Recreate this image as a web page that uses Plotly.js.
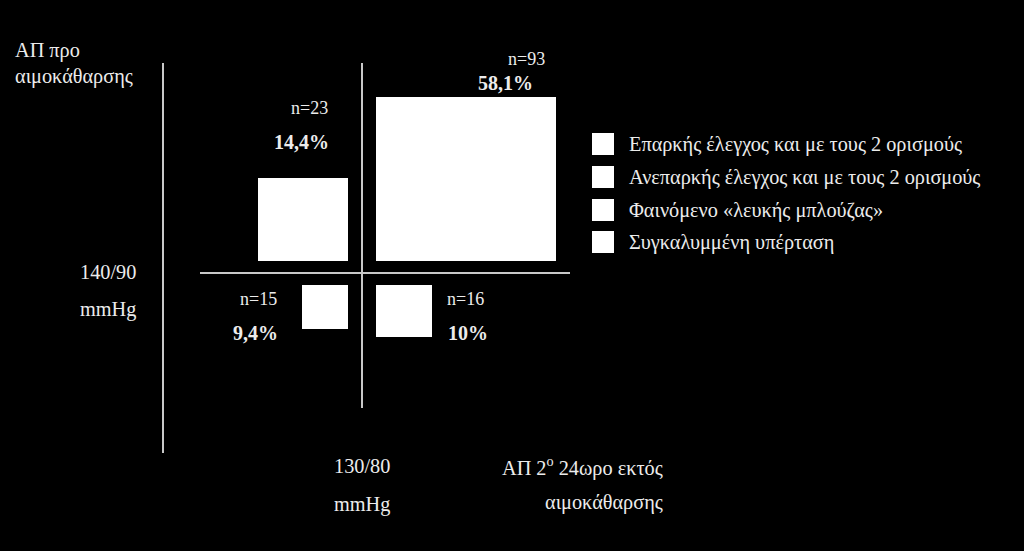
<!DOCTYPE html>
<html>
<head>
<meta charset="utf-8">
<script src="https://cdn.plot.ly/plotly-3.0.1.min.js"></script>
<style>
html,body{margin:0;padding:0;background:#000;}
#chart{width:1024px;height:551px;}
</style>
</head>
<body>
<div id="chart"></div>
<script>
// ---- data ----
var categories = [
  "Επαρκής έλεγχος και με τους 2 ορισμούς",
  "Ανεπαρκής έλεγχος και με τους 2 ορισμούς",
  "Φαινόμενο «λευκής μπλούζας»",
  "Συγκαλυμμένη υπέρταση"
];
var nValues = [15, 93, 23, 16];
var pctValues = [9.4, 58.1, 14.4, 10];
var pctLabels = ["9,4%", "58,1%", "14,4%", "10%"];
// quadrant side relative to the thresholds (-1 below/left, +1 above/right)
var quadX = [-1, 1, -1, 1];
var quadY = [-1, 1, 1, -1];
// square extents as drawn, in axis units
var squareWidth = [46, 180, 90, 56];
var squareHeight = [44, 164, 83, 52];

var xThresholdLabel = ["130/80", "mmHg"];
var yThresholdLabel = ["140/90", "mmHg"];
var yTitle = ["ΑΠ προ", "αιμοκάθαρσης"];
var xTitle = ["ΑΠ 2<sup>ο</sup> 24ωρο εκτός", "αιμοκάθαρσης"];

(function () {
  // ---- layout helpers ----
  var W = 1024, H = 551;
  var FONT = "'Liberation Serif', 'Times New Roman', 'DejaVu Serif', serif";
  var TXT = "#ececec";
  var BIG = 20.3;
  var gapX = 14, gapY = 12;

  var traces = [];
  var annotations = [];
  var shapes = [];

  for (var i = 0; i < categories.length; i++) {
    var w = squareWidth[i], h = squareHeight[i];
    var cx = quadX[i] * (gapX + w / 2);
    var yBase = quadY[i] > 0 ? gapY : -gapY - h;
    traces.push({
      type: "bar",
      name: categories[i],
      x: [cx], y: [h], base: [yBase], width: [w],
      marker: {color: "#ffffff", line: {width: 0}},
      showlegend: false,
      hovertemplate: categories[i] + "<br>n=" + nValues[i] + "<br>" + pctLabels[i] + "<extra></extra>"
    });
    var sqLeft = cx - w / 2, sqRight = cx + w / 2, sqTop = yBase + h;
    var nPos, pPos, xa;
    if (quadY[i] > 0 && quadX[i] < 0) {        // upper-left
      xa = "right"; nPos = [sqRight - 18, sqTop + 70]; pPos = [sqRight - 17, sqTop + 36];
    } else if (quadY[i] > 0) {                 // upper-right
      xa = "right"; nPos = [sqRight - 9, sqTop + 38]; pPos = [sqRight - 21, sqTop + 14];
    } else if (quadX[i] < 0) {                 // lower-left
      xa = "right"; nPos = [sqLeft - 23, sqTop - 14]; pPos = [sqLeft - 22, sqTop - 48];
    } else {                                   // lower-right
      xa = "left"; nPos = [sqRight + 13, sqTop - 14]; pPos = [sqRight + 14, sqTop - 48];
    }
    annotations.push({x: nPos[0], y: nPos[1], xref: "x", yref: "y", text: "n=" + nValues[i],
      showarrow: false, xanchor: xa, yanchor: "middle",
      font: {family: FONT, size: 18, color: TXT}});
    annotations.push({x: pPos[0], y: pPos[1], xref: "x", yref: "y", text: "<b>" + pctLabels[i] + "</b>",
      showarrow: false, xanchor: xa, yanchor: "middle",
      font: {family: FONT, size: 20, color: TXT}});
  }

  // threshold lines and outer axis line
  var lineStyle = {color: "#c8c8c8", width: 2};
  shapes.push({type: "line", xref: "x", yref: "y", x0: 0, x1: 0, y0: -135, y1: 210, line: lineStyle});
  shapes.push({type: "line", xref: "x", yref: "y", x0: -162, x1: 208, y0: 0, y1: 0, line: lineStyle});
  shapes.push({type: "line", xref: "x", yref: "y", x0: -199, x1: -199, y0: -180, y1: 210, line: lineStyle});

  function px(x) { return x / W; }
  function py(y) { return 1 - y / H; }
  function pText(text, x, y, xanchor, size) {
    annotations.push({x: px(x), y: py(y), xref: "paper", yref: "paper", text: text,
      showarrow: false, xanchor: xanchor, yanchor: "middle",
      font: {family: FONT, size: size || BIG, color: TXT}});
  }

  // axis titles and threshold labels
  pText(yTitle[0], 13, 50, "left");
  pText(yTitle[1], 13, 77, "left");
  pText(yThresholdLabel[0], 138, 272, "right");
  pText(yThresholdLabel[1], 138, 309, "right");
  pText(xThresholdLabel[0], 362, 466, "center");
  pText(xThresholdLabel[1], 362, 504, "center");
  pText(xTitle[0], 665, 466, "right");
  pText(xTitle[1], 665, 502, "right");

  // legend (drawn manually: large white squares + labels)
  var legendY = [144, 177, 210, 242];
  for (var k = 0; k < categories.length; k++) {
    shapes.push({type: "rect", xref: "paper", yref: "paper",
      x0: px(592), x1: px(614), y0: py(legendY[k] + 11), y1: py(legendY[k] - 11),
      fillcolor: "#ffffff", line: {width: 0}});
    pText(categories[k], 627, legendY[k], "left", BIG);
  }

  var hiddenAxis = {type: "linear", showgrid: false, zeroline: false, showline: false,
    showticklabels: false, ticks: "", fixedrange: true};
  var layout = {
    width: W, height: H,
    margin: {l: 0, r: 0, t: 0, b: 0, pad: 0},
    paper_bgcolor: "#000000",
    plot_bgcolor: "#000000",
    barmode: "overlay",
    showlegend: false,
    xaxis: Object.assign({range: [-362, 662]}, hiddenAxis),
    yaxis: Object.assign({range: [-278, 273]}, hiddenAxis),
    shapes: shapes,
    annotations: annotations
  };

  Plotly.newPlot("chart", traces, layout, {displayModeBar: false, staticPlot: true});
})();
</script>
</body>
</html>
